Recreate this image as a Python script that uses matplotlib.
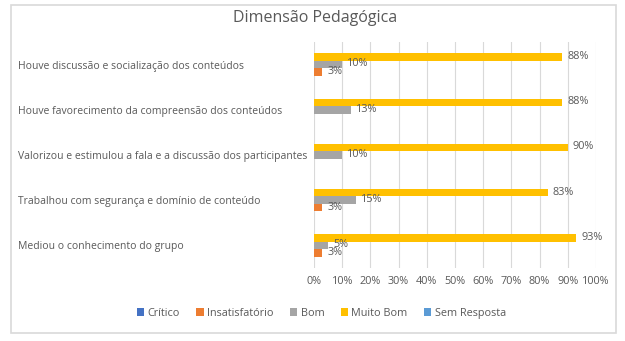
"""Dimensão Pedagógica - clustered horizontal bar chart."""
import matplotlib
matplotlib.use("Agg")
import matplotlib.pyplot as plt
import numpy as np
from matplotlib.patches import Rectangle

plt.rcParams["font.family"] = ["Open Sans", "DejaVu Sans"]

# bottom to top, as Excel draws them
categories = [
    "Mediou o conhecimento do grupo",
    "Trabalhou com segurança e domínio de conteúdo",
    "Valorizou e estimulou a fala e a discussão dos participantes",
    "Houve favorecimento da compreensão dos conteúdos",
    "Houve discussão e socialização dos conteúdos",
]
series_names = ["Crítico", "Insatisfatório", "Bom", "Muito Bom", "Sem Resposta"]
critico = [0, 0, 0, 0, 0]
insatisfatorio = [3, 3, 0, 0, 3]
bom = [5, 15, 10, 13, 10]
muito_bom = [93, 83, 90, 88, 88]
sem_resposta = [0, 0, 0, 0, 0]
colors = ["#4472c4", "#ed7d31", "#a5a5a5", "#ffc000", "#5b9bd5"]

TEXT = "#595959"
GRID = "#d9d9d9"

fig = plt.figure(figsize=(6.25, 3.41), dpi=100)
ax = fig.add_axes([0.5024, 0.214, 0.4512, 0.663])

y = np.arange(len(categories))
h = 0.166
all_series = [critico, insatisfatorio, bom, muito_bom, sem_resposta]
for k, (name, vals, c) in enumerate(zip(series_names, all_series, colors)):
    pos = y + (k - 2) * h
    ax.barh(pos, vals, height=h, color=c, label=name, zorder=3)
    for p, v in zip(pos, vals):
        if v > 0:
            ax.annotate(f"{v}%", xy=(v, p), xytext=(3.5, 0.5),
                        textcoords="offset points", ha="left", va="center",
                        fontsize=7.8, color=TEXT, zorder=4)

ax.set_xlim(0, 100)
ax.set_ylim(-0.5, len(categories) - 0.5)
ax.set_xticks(range(0, 101, 10))
ax.set_xticklabels([f"{t}%" for t in range(0, 101, 10)])
ax.set_yticks(y)
ax.set_yticklabels(categories)
ax.tick_params(axis="x", length=0, labelsize=7.8, colors=TEXT, pad=6)
ax.tick_params(axis="y", length=0, labelsize=7.5, colors=TEXT)
# Excel left-aligns the category names near the chart border
ax.tick_params(axis="y", pad=(314 - 18) * 72 / 100)
for lab in ax.get_yticklabels():
    lab.set_horizontalalignment("left")
ax.grid(axis="x", color=GRID, lw=0.8, zorder=0)
for s in ax.spines.values():
    s.set_visible(False)

fig.text(0.504, 0.948, "Dimensão Pedagógica", ha="center", va="center",
         fontsize=11.5, color=TEXT)

fig.legend(loc="center", bbox_to_anchor=(0.514, 0.082), ncol=5, frameon=False,
           fontsize=7.8, labelcolor=TEXT, handlelength=0.7, handleheight=0.7,
           handletextpad=0.3, columnspacing=1.5)

fig.patches.append(Rectangle((11 / 625, 1 - 333 / 341), 605 / 625, 328 / 341,
                             transform=fig.transFigure, fill=False,
                             edgecolor=GRID, lw=1.2))

fig.savefig("out.png", dpi=100)
